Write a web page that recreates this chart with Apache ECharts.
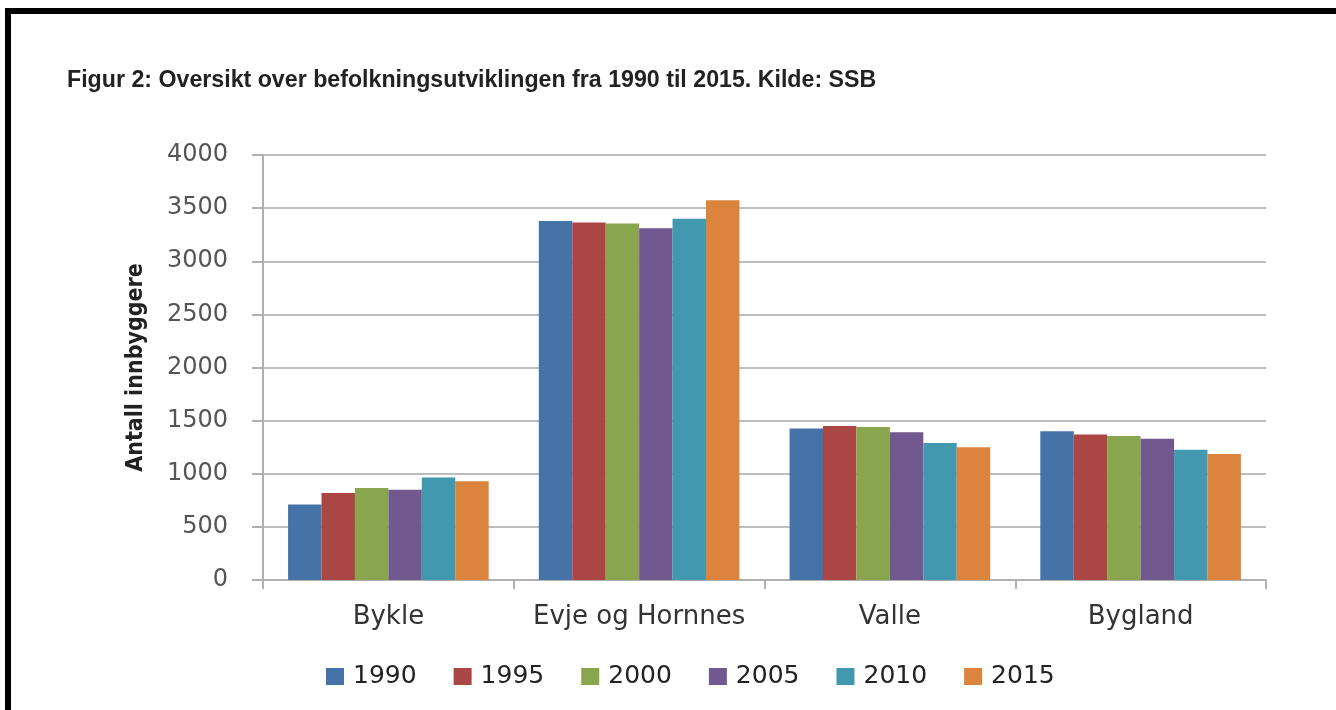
<!DOCTYPE html>
<html>
<head>
<meta charset="utf-8">
<script src="https://cdn.jsdelivr.net/npm/echarts@6/dist/echarts.min.js"></script>
<style>
html,body{margin:0;padding:0;background:#fff;}
#chart{width:1336px;height:710px;}
</style>
</head>
<body>
<div id="chart"></div>
<script>
var categories = ['Bykle', 'Evje og Hornnes', 'Valle', 'Bygland'];
var years = ['1990', '1995', '2000', '2005', '2010', '2015'];
var v1990 = [710, 3380, 1425, 1400];
var v1995 = [820, 3365, 1450, 1370];
var v2000 = [865, 3355, 1440, 1355];
var v2005 = [850, 3310, 1390, 1330];
var v2010 = [965, 3400, 1290, 1225];
var v2015 = [930, 3575, 1250, 1185];
var yTicks = [0, 500, 1000, 1500, 2000, 2500, 3000, 3500, 4000];
var colors = ['#4572A7', '#AA4643', '#89A54E', '#71588F', '#4198AF', '#DB843D'];
var titleText = 'Figur 2: Oversikt over befolkningsutviklingen fra 1990 til 2015. Kilde: SSB';
var yName = 'Antall innbyggere';

var seriesValues = [v1990, v1995, v2000, v2005, v2010, v2015];
var chart = echarts.init(document.getElementById('chart'), null, {renderer: 'canvas'});
var option = {
  animation: false,
  backgroundColor: '#fff',
  color: colors,
  title: {
    text: titleText,
    left: 62, top: 64,
    textStyle: {fontFamily: "'Liberation Sans', Arial, sans-serif", fontWeight: 'bold', fontSize: 23.2, color: '#222'}
  },
  graphic: [
    {type: 'rect', shape: {x: 5, y: 8, width: 1331, height: 6}, style: {fill: '#000'}},
    {type: 'rect', shape: {x: 5, y: 8, width: 6, height: 702}, style: {fill: '#000'}}
  ],
  legend: {
    data: years,
    left: 321,
    top: 659,
    itemWidth: 18, itemHeight: 17, itemGap: 37,
    icon: 'rect',
    textStyle: {fontFamily: "'DejaVu Sans', sans-serif", fontSize: 25, color: '#222', padding: [0,0,0,4]}
  },
  grid: {left: 263, right: 70, top: 155, bottom: 130, containLabel: false},
  xAxis: {
    type: 'category',
    data: categories,
    axisLine: {lineStyle: {color: '#b0b0b0', width: 2}},
    axisTick: {show: true, length: 9, lineStyle: {color: '#b0b0b0', width: 2}},
    axisLabel: {interval: 0, fontFamily: "'DejaVu Sans', sans-serif", fontSize: 26, color: '#333', margin: 24}
  },
  yAxis: {
    type: 'value',
    min: 0, max: 4000, interval: 500,
    name: yName,
    nameLocation: 'middle',
    nameRotate: 90,
    nameGap: 115,
    nameTextStyle: {fontFamily: "'DejaVu Sans Condensed', sans-serif", fontWeight: 'bold', fontSize: 23, color: '#222'},
    axisLine: {show: true, lineStyle: {color: '#b0b0b0', width: 2}},
    axisTick: {show: true, length: 11, lineStyle: {color: '#b0b0b0', width: 2}},
    splitLine: {lineStyle: {color: '#bdbdbd', width: 2}},
    axisLabel: {fontFamily: "'DejaVu Sans', sans-serif", fontSize: 24, color: '#555', margin: 35,
      formatter: function (v) { return yTicks.indexOf(v) >= 0 ? String(v) : ''; }}
  },
  series: years.map(function (y, i) {
    return {
      name: y, type: 'bar', data: seriesValues[i],
      barGap: '0%', barCategoryGap: '20%',
      itemStyle: {color: colors[i]}
    };
  })
};
chart.setOption(option);
</script>
</body>
</html>
